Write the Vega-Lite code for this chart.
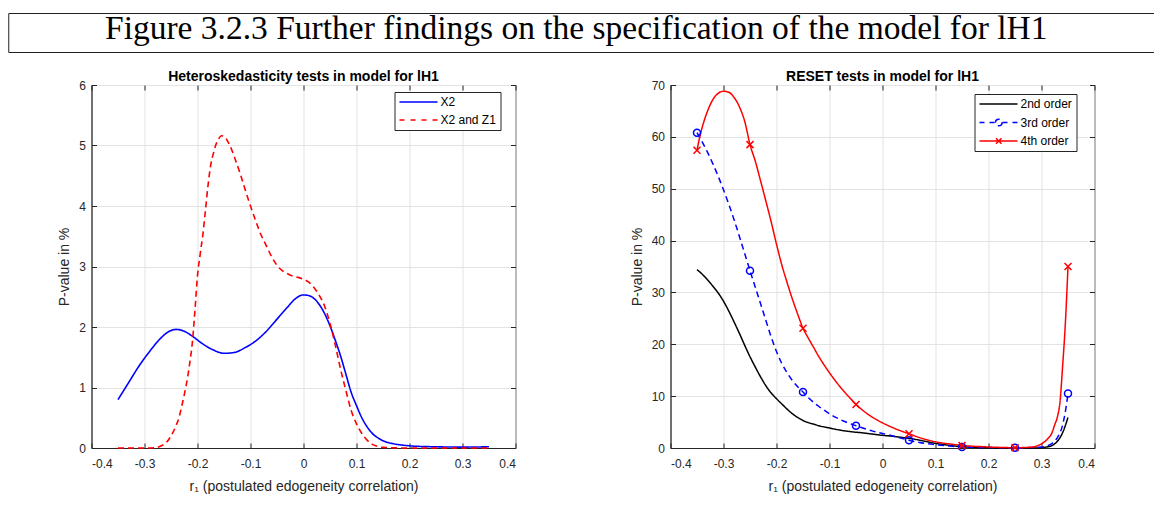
{
  "$schema": "https://vega.github.io/schema/vega-lite/v6.json",
  "background": "white",
  "padding": {"left": 7, "top": 11, "right": 0, "bottom": 0},
  "config": {
    "font": "Liberation Sans",
    "view": {"stroke": "#262626", "strokeWidth": 1},
    "axis": {
      "grid": true, "gridColor": "#e3e3e3", "gridWidth": 1,
      "domainColor": "#262626", "tickColor": "#262626",
      "labelColor": "#262626", "titleColor": "#262626",
      "labelFont": "Liberation Sans", "titleFont": "Liberation Sans",
      "labelFontSize": 12, "titleFontSize": 14, "titleFontWeight": "normal",
      "tickSize": -5, "labelPadding": 11, "titlePadding": 7, "labelOverlap": false
    },
    "axisX": {"labelPadding": 15, "titlePadding": 10},
    "legend": {
      "fillColor": "white", "strokeColor": "#262626", "padding": 4,
      "symbolSize": 100, "symbolStrokeWidth": 1.5, "labelFontSize": 12,
      "labelColor": "black", "labelOffset": 30, "rowPadding": 6, "labelFont": "Liberation Sans"
    },
    "title": {"font": "Liberation Sans", "fontSize": 14, "fontWeight": "bold", "color": "black", "offset": -5}
  },
  "datasets": {
    "heter": [
      {"series": "X2", "x": -0.35, "y": 0.80},
      {"series": "X2", "x": -0.33, "y": 1.08},
      {"series": "X2", "x": -0.31, "y": 1.36},
      {"series": "X2", "x": -0.29, "y": 1.60},
      {"series": "X2", "x": -0.27, "y": 1.81},
      {"series": "X2", "x": -0.255, "y": 1.92},
      {"series": "X2", "x": -0.24, "y": 1.96},
      {"series": "X2", "x": -0.225, "y": 1.93},
      {"series": "X2", "x": -0.21, "y": 1.85},
      {"series": "X2", "x": -0.19, "y": 1.72},
      {"series": "X2", "x": -0.17, "y": 1.62},
      {"series": "X2", "x": -0.15, "y": 1.565},
      {"series": "X2", "x": -0.13, "y": 1.58},
      {"series": "X2", "x": -0.11, "y": 1.66},
      {"series": "X2", "x": -0.09, "y": 1.77},
      {"series": "X2", "x": -0.07, "y": 1.93},
      {"series": "X2", "x": -0.05, "y": 2.13},
      {"series": "X2", "x": -0.03, "y": 2.33},
      {"series": "X2", "x": -0.015, "y": 2.47},
      {"series": "X2", "x": 0.0, "y": 2.53},
      {"series": "X2", "x": 0.01, "y": 2.52},
      {"series": "X2", "x": 0.02, "y": 2.47},
      {"series": "X2", "x": 0.035, "y": 2.30},
      {"series": "X2", "x": 0.05, "y": 2.02},
      {"series": "X2", "x": 0.06, "y": 1.78},
      {"series": "X2", "x": 0.07, "y": 1.52},
      {"series": "X2", "x": 0.08, "y": 1.22},
      {"series": "X2", "x": 0.09, "y": 0.92},
      {"series": "X2", "x": 0.10, "y": 0.70},
      {"series": "X2", "x": 0.11, "y": 0.50},
      {"series": "X2", "x": 0.12, "y": 0.35},
      {"series": "X2", "x": 0.13, "y": 0.24},
      {"series": "X2", "x": 0.14, "y": 0.17},
      {"series": "X2", "x": 0.15, "y": 0.12},
      {"series": "X2", "x": 0.17, "y": 0.07},
      {"series": "X2", "x": 0.19, "y": 0.045},
      {"series": "X2", "x": 0.21, "y": 0.03},
      {"series": "X2", "x": 0.25, "y": 0.02},
      {"series": "X2", "x": 0.30, "y": 0.015},
      {"series": "X2", "x": 0.35, "y": 0.02},
      {"series": "X2 and Z1", "x": -0.35, "y": 0},
      {"series": "X2 and Z1", "x": -0.30, "y": 0},
      {"series": "X2 and Z1", "x": -0.28, "y": 0.005},
      {"series": "X2 and Z1", "x": -0.27, "y": 0.03},
      {"series": "X2 and Z1", "x": -0.26, "y": 0.08},
      {"series": "X2 and Z1", "x": -0.25, "y": 0.2},
      {"series": "X2 and Z1", "x": -0.24, "y": 0.38},
      {"series": "X2 and Z1", "x": -0.235, "y": 0.5},
      {"series": "X2 and Z1", "x": -0.23, "y": 0.68},
      {"series": "X2 and Z1", "x": -0.225, "y": 0.88},
      {"series": "X2 and Z1", "x": -0.22, "y": 1.1},
      {"series": "X2 and Z1", "x": -0.215, "y": 1.38},
      {"series": "X2 and Z1", "x": -0.21, "y": 1.72},
      {"series": "X2 and Z1", "x": -0.205, "y": 2.25},
      {"series": "X2 and Z1", "x": -0.20, "y": 2.85},
      {"series": "X2 and Z1", "x": -0.195, "y": 3.2},
      {"series": "X2 and Z1", "x": -0.19, "y": 3.52},
      {"series": "X2 and Z1", "x": -0.185, "y": 3.93},
      {"series": "X2 and Z1", "x": -0.18, "y": 4.35},
      {"series": "X2 and Z1", "x": -0.175, "y": 4.68},
      {"series": "X2 and Z1", "x": -0.17, "y": 4.87},
      {"series": "X2 and Z1", "x": -0.165, "y": 5.02},
      {"series": "X2 and Z1", "x": -0.16, "y": 5.11},
      {"series": "X2 and Z1", "x": -0.155, "y": 5.16},
      {"series": "X2 and Z1", "x": -0.15, "y": 5.15},
      {"series": "X2 and Z1", "x": -0.145, "y": 5.1},
      {"series": "X2 and Z1", "x": -0.14, "y": 5.02},
      {"series": "X2 and Z1", "x": -0.135, "y": 4.92},
      {"series": "X2 and Z1", "x": -0.13, "y": 4.8},
      {"series": "X2 and Z1", "x": -0.12, "y": 4.55},
      {"series": "X2 and Z1", "x": -0.11, "y": 4.27},
      {"series": "X2 and Z1", "x": -0.10, "y": 4.0},
      {"series": "X2 and Z1", "x": -0.09, "y": 3.75},
      {"series": "X2 and Z1", "x": -0.08, "y": 3.52},
      {"series": "X2 and Z1", "x": -0.07, "y": 3.34},
      {"series": "X2 and Z1", "x": -0.06, "y": 3.16},
      {"series": "X2 and Z1", "x": -0.05, "y": 3.02},
      {"series": "X2 and Z1", "x": -0.04, "y": 2.93},
      {"series": "X2 and Z1", "x": -0.03, "y": 2.88},
      {"series": "X2 and Z1", "x": -0.02, "y": 2.84},
      {"series": "X2 and Z1", "x": -0.01, "y": 2.82},
      {"series": "X2 and Z1", "x": 0.0, "y": 2.79},
      {"series": "X2 and Z1", "x": 0.01, "y": 2.74},
      {"series": "X2 and Z1", "x": 0.02, "y": 2.65},
      {"series": "X2 and Z1", "x": 0.03, "y": 2.52},
      {"series": "X2 and Z1", "x": 0.04, "y": 2.34},
      {"series": "X2 and Z1", "x": 0.05, "y": 2.06},
      {"series": "X2 and Z1", "x": 0.06, "y": 1.7},
      {"series": "X2 and Z1", "x": 0.07, "y": 1.3},
      {"series": "X2 and Z1", "x": 0.08, "y": 0.95},
      {"series": "X2 and Z1", "x": 0.09, "y": 0.62},
      {"series": "X2 and Z1", "x": 0.10, "y": 0.4},
      {"series": "X2 and Z1", "x": 0.11, "y": 0.24},
      {"series": "X2 and Z1", "x": 0.12, "y": 0.13},
      {"series": "X2 and Z1", "x": 0.13, "y": 0.06},
      {"series": "X2 and Z1", "x": 0.14, "y": 0.025},
      {"series": "X2 and Z1", "x": 0.15, "y": 0.01},
      {"series": "X2 and Z1", "x": 0.20, "y": 0},
      {"series": "X2 and Z1", "x": 0.35, "y": 0}
    ],
    "reset": [
      {"series": "2nd order", "x": -0.35, "y": 34.4},
      {"series": "2nd order", "x": -0.34, "y": 33.5},
      {"series": "2nd order", "x": -0.33, "y": 32.4},
      {"series": "2nd order", "x": -0.32, "y": 31.2},
      {"series": "2nd order", "x": -0.31, "y": 29.9},
      {"series": "2nd order", "x": -0.30, "y": 28.3},
      {"series": "2nd order", "x": -0.29, "y": 26.4},
      {"series": "2nd order", "x": -0.28, "y": 24.3},
      {"series": "2nd order", "x": -0.27, "y": 22.1},
      {"series": "2nd order", "x": -0.26, "y": 19.8},
      {"series": "2nd order", "x": -0.25, "y": 17.6},
      {"series": "2nd order", "x": -0.24, "y": 15.6},
      {"series": "2nd order", "x": -0.23, "y": 13.7},
      {"series": "2nd order", "x": -0.22, "y": 12.0},
      {"series": "2nd order", "x": -0.21, "y": 10.6},
      {"series": "2nd order", "x": -0.20, "y": 9.5},
      {"series": "2nd order", "x": -0.19, "y": 8.5},
      {"series": "2nd order", "x": -0.18, "y": 7.5},
      {"series": "2nd order", "x": -0.17, "y": 6.6},
      {"series": "2nd order", "x": -0.16, "y": 5.9},
      {"series": "2nd order", "x": -0.15, "y": 5.3},
      {"series": "2nd order", "x": -0.14, "y": 4.9},
      {"series": "2nd order", "x": -0.13, "y": 4.6},
      {"series": "2nd order", "x": -0.12, "y": 4.3},
      {"series": "2nd order", "x": -0.10, "y": 3.85},
      {"series": "2nd order", "x": -0.08, "y": 3.45},
      {"series": "2nd order", "x": -0.06, "y": 3.15},
      {"series": "2nd order", "x": -0.04, "y": 2.95},
      {"series": "2nd order", "x": -0.02, "y": 2.7},
      {"series": "2nd order", "x": 0.0, "y": 2.45},
      {"series": "2nd order", "x": 0.02, "y": 2.25},
      {"series": "2nd order", "x": 0.04, "y": 2.0},
      {"series": "2nd order", "x": 0.06, "y": 1.7},
      {"series": "2nd order", "x": 0.08, "y": 1.3},
      {"series": "2nd order", "x": 0.10, "y": 0.9},
      {"series": "2nd order", "x": 0.12, "y": 0.6},
      {"series": "2nd order", "x": 0.14, "y": 0.35},
      {"series": "2nd order", "x": 0.16, "y": 0.2},
      {"series": "2nd order", "x": 0.18, "y": 0.1},
      {"series": "2nd order", "x": 0.20, "y": 0.04},
      {"series": "2nd order", "x": 0.24, "y": 0.0},
      {"series": "2nd order", "x": 0.28, "y": 0.0},
      {"series": "2nd order", "x": 0.30, "y": 0.05},
      {"series": "2nd order", "x": 0.31, "y": 0.2},
      {"series": "2nd order", "x": 0.32, "y": 0.5},
      {"series": "2nd order", "x": 0.33, "y": 1.3},
      {"series": "2nd order", "x": 0.34, "y": 3.0},
      {"series": "2nd order", "x": 0.35, "y": 5.9},
      {"series": "3rd order", "x": -0.35, "y": 60.8},
      {"series": "3rd order", "x": -0.34, "y": 59.0},
      {"series": "3rd order", "x": -0.33, "y": 57.0},
      {"series": "3rd order", "x": -0.32, "y": 54.8},
      {"series": "3rd order", "x": -0.31, "y": 52.4},
      {"series": "3rd order", "x": -0.30, "y": 49.8},
      {"series": "3rd order", "x": -0.29, "y": 47.0},
      {"series": "3rd order", "x": -0.28, "y": 44.0},
      {"series": "3rd order", "x": -0.27, "y": 40.8},
      {"series": "3rd order", "x": -0.26, "y": 37.5},
      {"series": "3rd order", "x": -0.25, "y": 34.2},
      {"series": "3rd order", "x": -0.24, "y": 31.0},
      {"series": "3rd order", "x": -0.23, "y": 27.8},
      {"series": "3rd order", "x": -0.22, "y": 24.6},
      {"series": "3rd order", "x": -0.21, "y": 21.4},
      {"series": "3rd order", "x": -0.20, "y": 18.6},
      {"series": "3rd order", "x": -0.19, "y": 16.3},
      {"series": "3rd order", "x": -0.18, "y": 14.5},
      {"series": "3rd order", "x": -0.17, "y": 13.0},
      {"series": "3rd order", "x": -0.16, "y": 11.8},
      {"series": "3rd order", "x": -0.15, "y": 10.8},
      {"series": "3rd order", "x": -0.14, "y": 9.7},
      {"series": "3rd order", "x": -0.13, "y": 8.8},
      {"series": "3rd order", "x": -0.12, "y": 8.0},
      {"series": "3rd order", "x": -0.11, "y": 7.3},
      {"series": "3rd order", "x": -0.10, "y": 6.6},
      {"series": "3rd order", "x": -0.09, "y": 6.0},
      {"series": "3rd order", "x": -0.08, "y": 5.5},
      {"series": "3rd order", "x": -0.07, "y": 5.05},
      {"series": "3rd order", "x": -0.06, "y": 4.65},
      {"series": "3rd order", "x": -0.05, "y": 4.3},
      {"series": "3rd order", "x": -0.04, "y": 3.95},
      {"series": "3rd order", "x": -0.02, "y": 3.3},
      {"series": "3rd order", "x": 0.0, "y": 2.8},
      {"series": "3rd order", "x": 0.02, "y": 2.3},
      {"series": "3rd order", "x": 0.04, "y": 1.8},
      {"series": "3rd order", "x": 0.05, "y": 1.5},
      {"series": "3rd order", "x": 0.07, "y": 1.05},
      {"series": "3rd order", "x": 0.10, "y": 0.65},
      {"series": "3rd order", "x": 0.125, "y": 0.4},
      {"series": "3rd order", "x": 0.15, "y": 0.2},
      {"series": "3rd order", "x": 0.20, "y": 0.08},
      {"series": "3rd order", "x": 0.25, "y": 0.05},
      {"series": "3rd order", "x": 0.28, "y": 0.1},
      {"series": "3rd order", "x": 0.30, "y": 0.2},
      {"series": "3rd order", "x": 0.31, "y": 0.4},
      {"series": "3rd order", "x": 0.32, "y": 0.9},
      {"series": "3rd order", "x": 0.33, "y": 2.0},
      {"series": "3rd order", "x": 0.34, "y": 4.5},
      {"series": "3rd order", "x": 0.345, "y": 7.0},
      {"series": "3rd order", "x": 0.35, "y": 10.5},
      {"series": "4th order", "x": -0.35, "y": 57.4},
      {"series": "4th order", "x": -0.345, "y": 59.9},
      {"series": "4th order", "x": -0.34, "y": 61.9},
      {"series": "4th order", "x": -0.33, "y": 65.0},
      {"series": "4th order", "x": -0.32, "y": 67.2},
      {"series": "4th order", "x": -0.31, "y": 68.4},
      {"series": "4th order", "x": -0.30, "y": 68.8},
      {"series": "4th order", "x": -0.29, "y": 68.6},
      {"series": "4th order", "x": -0.28, "y": 67.6},
      {"series": "4th order", "x": -0.27, "y": 65.8},
      {"series": "4th order", "x": -0.26, "y": 63.0},
      {"series": "4th order", "x": -0.25, "y": 58.5},
      {"series": "4th order", "x": -0.24, "y": 55.3},
      {"series": "4th order", "x": -0.23, "y": 51.5},
      {"series": "4th order", "x": -0.22, "y": 47.6},
      {"series": "4th order", "x": -0.21, "y": 43.6},
      {"series": "4th order", "x": -0.20, "y": 39.3},
      {"series": "4th order", "x": -0.19, "y": 35.3},
      {"series": "4th order", "x": -0.18, "y": 31.9},
      {"series": "4th order", "x": -0.17, "y": 28.7},
      {"series": "4th order", "x": -0.16, "y": 25.8},
      {"series": "4th order", "x": -0.15, "y": 23.1},
      {"series": "4th order", "x": -0.14, "y": 21.2},
      {"series": "4th order", "x": -0.13, "y": 19.4},
      {"series": "4th order", "x": -0.12, "y": 17.6},
      {"series": "4th order", "x": -0.11, "y": 16.0},
      {"series": "4th order", "x": -0.10, "y": 14.5},
      {"series": "4th order", "x": -0.09, "y": 13.1},
      {"series": "4th order", "x": -0.08, "y": 11.8},
      {"series": "4th order", "x": -0.07, "y": 10.6},
      {"series": "4th order", "x": -0.06, "y": 9.5},
      {"series": "4th order", "x": -0.05, "y": 8.4},
      {"series": "4th order", "x": -0.04, "y": 7.5},
      {"series": "4th order", "x": -0.03, "y": 6.7},
      {"series": "4th order", "x": -0.02, "y": 6.0},
      {"series": "4th order", "x": -0.01, "y": 5.4},
      {"series": "4th order", "x": 0.0, "y": 4.85},
      {"series": "4th order", "x": 0.02, "y": 3.9},
      {"series": "4th order", "x": 0.04, "y": 3.1},
      {"series": "4th order", "x": 0.05, "y": 2.75},
      {"series": "4th order", "x": 0.07, "y": 2.0},
      {"series": "4th order", "x": 0.10, "y": 1.2},
      {"series": "4th order", "x": 0.125, "y": 0.8},
      {"series": "4th order", "x": 0.15, "y": 0.5},
      {"series": "4th order", "x": 0.20, "y": 0.2},
      {"series": "4th order", "x": 0.25, "y": 0.06},
      {"series": "4th order", "x": 0.28, "y": 0.15},
      {"series": "4th order", "x": 0.29, "y": 0.35},
      {"series": "4th order", "x": 0.30, "y": 0.8},
      {"series": "4th order", "x": 0.31, "y": 1.6},
      {"series": "4th order", "x": 0.32, "y": 3.0},
      {"series": "4th order", "x": 0.325, "y": 4.5},
      {"series": "4th order", "x": 0.33, "y": 6.0},
      {"series": "4th order", "x": 0.335, "y": 9.0},
      {"series": "4th order", "x": 0.34, "y": 16.0},
      {"series": "4th order", "x": 0.345, "y": 24.0},
      {"series": "4th order", "x": 0.35, "y": 35.0}
    ]
  },
  "vconcat": [
    {
      "width": 1170,
      "height": 39,
      "view": {"stroke": "#222222", "strokeWidth": 1},
      "data": {"values": [{"caption": "Figure 3.2.3 Further findings on the specification of the model for lH1"}]},
      "mark": {"type": "text", "font": "Liberation Serif", "fontSize": 33.5, "color": "black", "align": "center", "baseline": "alphabetic", "dx": -17, "dy": 6.5},
      "encoding": {"text": {"field": "caption", "type": "nominal"}}
    },
    {
      "resolve": {"scale": {"color": "independent", "strokeDash": "independent", "shape": "independent"}, "legend": {"color": "independent"}},
      "hconcat": [
        {
          "width": 424,
          "height": 363,
          "title": {"text": "Heteroskedasticity tests in model for lH1"},
          "data": {"name": "heter"},
          "resolve": {"axis": {"x": "independent", "y": "independent"}},
          "layer": [
            {
              "mark": {"type": "line", "interpolate": "monotone", "strokeWidth": 1.6},
              "encoding": {
                "x": {"field": "x", "type": "quantitative", "scale": {"domain": [-0.4, 0.4], "nice": false},
                  "axis": {"values": [-0.4, -0.3, -0.2, -0.1, 0, 0.1, 0.2, 0.3, 0.4], "labelExpr": "(datum.value < 0 ? '-' : '') + format(abs(datum.value), '.1~f')", "title": "r₁ (postulated edogeneity correlation)"}},
                "y": {"field": "y", "type": "quantitative", "scale": {"domain": [0, 6], "nice": false},
                  "axis": {"values": [0, 1, 2, 3, 4, 5, 6], "title": "P-value in %"}},
                "color": {"field": "series", "type": "nominal",
                  "scale": {"domain": ["X2", "X2 and Z1"], "range": ["#0000ff", "#ff0000"]},
                  "legend": {"title": null, "orient": "none", "legendX": 303, "legendY": 7,
                    "encode": {"symbols": {"update": {
                      "shape": {"signal": "datum.value === 'X2' ? 'M-1,0H6.6' : 'M-1,0H0M1.2,0H2.2M3.4,0H4.4M5.6,0H6.6'"},
                      "fill": {"value": "transparent"}, "strokeWidth": {"value": 1.5}, "strokeDash": {"value": []}}}}}},
                "strokeDash": {"field": "series", "type": "nominal",
                  "scale": {"domain": ["X2", "X2 and Z1"], "range": [[1, 0], [6, 4]]}, "legend": null}
              }
            },
            {
              "mark": {"type": "point", "opacity": 0},
              "encoding": {
                "x": {"field": "x", "type": "quantitative", "axis": {"orient": "top", "labels": false, "title": null, "grid": false, "domain": false, "labelPadding": 0, "minExtent": 0, "values": [-0.4, -0.3, -0.2, -0.1, 0, 0.1, 0.2, 0.3, 0.4]}},
                "y": {"field": "y", "type": "quantitative", "axis": {"orient": "right", "labels": false, "title": null, "grid": false, "domain": false, "labelPadding": 0, "minExtent": 0, "values": [0, 1, 2, 3, 4, 5, 6]}}
              }
            }
          ]
        },
        {
          "width": 424,
          "height": 363,
          "title": {"text": "RESET tests in model for lH1"},
          "data": {"name": "reset"},
          "resolve": {"axis": {"x": "independent", "y": "independent"}},
          "layer": [
            {
              "mark": {"type": "line", "interpolate": "monotone", "strokeWidth": 1.5},
              "encoding": {
                "x": {"field": "x", "type": "quantitative", "scale": {"domain": [-0.4, 0.4], "nice": false},
                  "axis": {"values": [-0.4, -0.3, -0.2, -0.1, 0, 0.1, 0.2, 0.3, 0.4], "labelExpr": "(datum.value < 0 ? '-' : '') + format(abs(datum.value), '.1~f')", "title": "r₁ (postulated edogeneity correlation)"}},
                "y": {"field": "y", "type": "quantitative", "scale": {"domain": [0, 70], "nice": false},
                  "axis": {"values": [0, 10, 20, 30, 40, 50, 60, 70], "title": "P-value in %"}},
                "color": {"field": "series", "type": "nominal",
                  "scale": {"domain": ["2nd order", "3rd order", "4th order"], "range": ["#000000", "#0000ff", "#ff0000"]},
                  "legend": {"title": null, "orient": "none", "legendX": 304, "legendY": 9, "rowPadding": 5.5,
                    "encode": {"symbols": {"update": {
                      "shape": {"signal": "datum.value === '3rd order' ? 'M-1,0H0M1,0H2M3.6,0H4.6M5.6,0H6.6M3.52,0A0.66,0.66,0,1,1,2.2,0A0.66,0.66,0,1,1,3.52,0' : datum.value === '4th order' ? 'M-1,0H6.6M2.3,-0.55L3.4,0.55M2.3,0.55L3.4,-0.55' : 'M-1,0H6.6'"},
                      "fill": {"value": "transparent"}, "strokeWidth": {"value": 1.5}, "strokeDash": {"value": []}}}}}},
                "strokeDash": {"field": "series", "type": "nominal",
                  "scale": {"domain": ["2nd order", "3rd order", "4th order"], "range": [[1, 0], [6, 4], [1, 0]]}, "legend": null}
              }
            },
            {
              "transform": [
                {"filter": {"field": "series", "oneOf": ["3rd order", "4th order"]}},
                {"filter": {"field": "x", "oneOf": [-0.35, -0.25, -0.15, -0.05, 0.05, 0.15, 0.25, 0.35]}}
              ],
              "mark": {"type": "point", "filled": false, "strokeWidth": 1.5, "opacity": 1},
              "encoding": {
                "x": {"field": "x", "type": "quantitative", "axis": null},
                "y": {"field": "y", "type": "quantitative", "axis": null},
                "color": {"field": "series", "type": "nominal", "legend": null},
                "shape": {"field": "series", "type": "nominal",
                  "scale": {"domain": ["3rd order", "4th order"], "range": ["circle", "M-1,-1L1,1M-1,1L1,-1"]}, "legend": null},
                "size": {"value": 49}
              }
            },
            {
              "mark": {"type": "point", "opacity": 0},
              "encoding": {
                "x": {"field": "x", "type": "quantitative", "axis": {"orient": "top", "labels": false, "title": null, "grid": false, "domain": false, "labelPadding": 0, "minExtent": 0, "values": [-0.4, -0.3, -0.2, -0.1, 0, 0.1, 0.2, 0.3, 0.4]}},
                "y": {"field": "y", "type": "quantitative", "axis": {"orient": "right", "labels": false, "title": null, "grid": false, "domain": false, "labelPadding": 0, "minExtent": 0, "values": [0, 10, 20, 30, 40, 50, 60, 70]}}
              }
            }
          ]
        }
      ],
      "spacing": 113
    }
  ],
  "spacing": 16,
  "center": true
}
